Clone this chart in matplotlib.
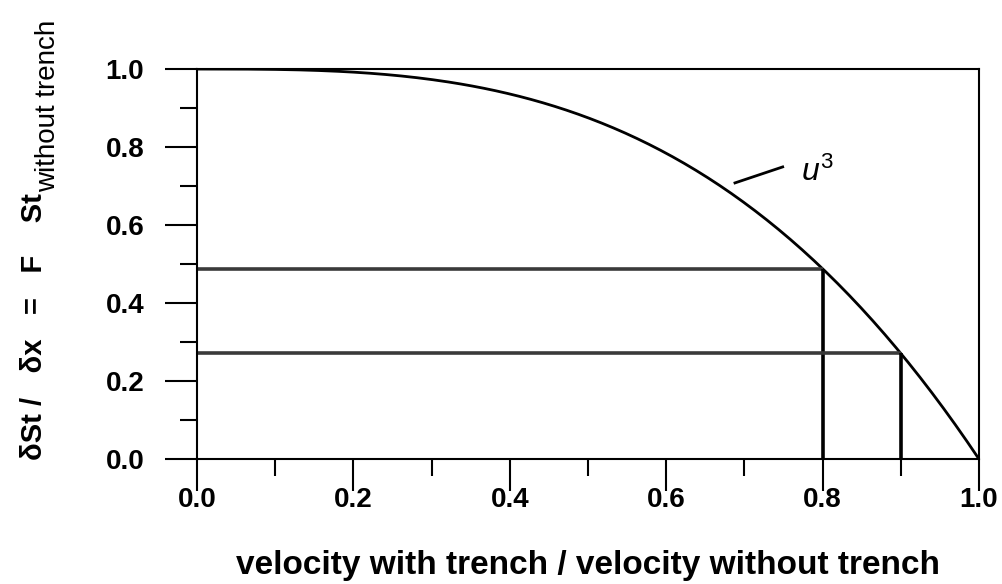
import numpy as np
import matplotlib.pyplot as plt
from matplotlib.ticker import MultipleLocator

plt.rcParams['font.family'] = ['Liberation Sans', 'DejaVu Sans']
plt.rcParams['mathtext.fontset'] = 'custom'
plt.rcParams['mathtext.rm'] = 'Liberation Sans'
plt.rcParams['mathtext.it'] = 'Liberation Sans:italic'

# velocity ratio and the resulting transport ratio 1 - u^3
u = np.linspace(0, 1, 200)
ratio = 1 - u ** 3

# the two marked velocity ratios and their read-offs
u_marks = [0.8, 0.9]
ratio_marks = [0.488, 0.271]

fig = plt.figure(figsize=(10.02, 5.84), dpi=100)
ax = fig.add_axes([0.1966, 0.214, 0.7804, 0.6678])

ax.plot(u, ratio, color='black', lw=2.0)
for um, rm in zip(u_marks, ratio_marks):
    ax.plot([0, um], [rm, rm], color='#3a3a3a', lw=2.6, solid_capstyle='butt')
    ax.plot([um, um], [0, rm], color='black', lw=2.6, solid_capstyle='butt')

# label for the curve with a short leader line
ax.plot([0.688, 0.749], [0.708, 0.749], color='black', lw=2.0)
ax.text(0.772, 0.712, '$u^3$', fontsize=23, ha='left', va='baseline')

ax.set_xlim(0, 1)
ax.set_ylim(0, 1)
ax.xaxis.set_major_locator(MultipleLocator(0.2))
ax.xaxis.set_minor_locator(MultipleLocator(0.1))
ax.yaxis.set_major_locator(MultipleLocator(0.2))
ax.yaxis.set_minor_locator(MultipleLocator(0.1))
ax.tick_params(which='major', direction='out', length=23, width=1.5,
               labelsize=20)
ax.tick_params(which='minor', direction='out', length=12, width=1.5)
ax.tick_params(axis='x', which='major', pad=-3)
ax.tick_params(axis='y', which='major', pad=15)
for lab in ax.get_xticklabels() + ax.get_yticklabels():
    lab.set_fontweight('bold')
ax.xaxis.set_major_formatter(lambda v, p: f'{v:.1f}')
ax.yaxis.set_major_formatter(lambda v, p: f'{v:.1f}')
for s in ax.spines.values():
    s.set_linewidth(1.5)

ax.set_xlabel('velocity with trench / velocity without trench',
              fontsize=24, fontweight='bold', labelpad=27)

# y label: main part plus a lowered subscript
ylab = fig.text(0.02, 1 - 460 / 584, '\u03b4St /   \u03b4x   =   F    St',
                rotation=90, ha='left', va='bottom', fontsize=21,
                fontweight='bold')
ax.annotate('without trench', xy=(1, 1), xycoords=ylab,
            xytext=(13, 1), textcoords='offset pixels',
            rotation=90, ha='right', va='bottom', fontsize=20)

fig.savefig('out.png', dpi=100)
